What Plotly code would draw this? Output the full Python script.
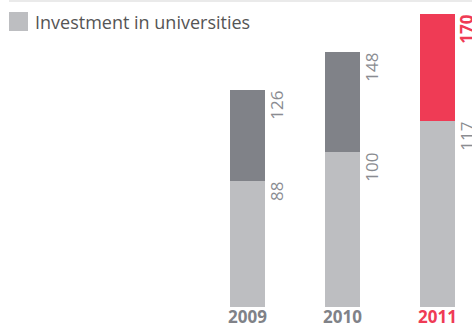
import plotly.graph_objects as go

years = ["2009", "2010", "2011"]
total_values = [126, 148, 170]
university_labels = [88, 100, 117]
# heights of the light-grey segment as drawn in the picture
university_bar = [73, 90, 108]
other_bar = [t - u for t, u in zip(total_values, university_bar)]

LIGHT = "#BDBEC1"
DARK = "#808288"
RED = "#EF3B55"
TXT = "#8A8C91"
FONT = "Open Sans"

xs = list(range(len(years)))
top_colors = [DARK, DARK, RED]

fig = go.Figure()
fig.add_trace(go.Bar(x=xs, y=university_bar, marker=dict(color=LIGHT, line=dict(width=0)),
                     width=0.368, showlegend=False, hoverinfo="skip"))
fig.add_trace(go.Bar(x=xs, y=other_bar, marker=dict(color=top_colors, line=dict(width=0)),
                     width=0.368, showlegend=False, hoverinfo="skip"))

ann = []
for i, y in enumerate(years):
    is_last = i == len(years) - 1
    ann.append(dict(x=i, y=-20 / 307, xref="x", yref="paper", yanchor="bottom", xanchor="center",
                    text=f"<b>{y}</b>", showarrow=False, yshift=-3,
                    font=dict(family=FONT, size=17, color=RED if is_last else DARK)))
    # total label
    ann.append(dict(x=i + 0.184, y=total_values[i], xref="x", yref="y", xanchor="left", yanchor="top",
                    text=(f"<b>{total_values[i]}</b>" if is_last else str(total_values[i])),
                    textangle=-90, showarrow=False, xshift=-2, yshift=1,
                    font=dict(family=FONT, size=17, color=RED if is_last else TXT)))
    # university label
    ann.append(dict(x=i + 0.184, y=university_bar[i], xref="x", yref="y", xanchor="left", yanchor="top",
                    text=str(university_labels[i]), textangle=-90, showarrow=False, xshift=-2, yshift=1,
                    font=dict(family=FONT, size=17, color=TXT)))

ann.append(dict(x=33 / 472, y=1 - 22 / 307, xref="paper", yref="paper", xanchor="left", yanchor="middle",
                text="Investment in universities", showarrow=False,
                font=dict(family=FONT, size=18, color="#555555")))

shapes = [
    dict(type="rect", xref="paper", yref="paper", x0=9 / 472, x1=28 / 472,
         y0=1 - 31 / 307, y1=1 - 12 / 307, fillcolor=LIGHT, line=dict(width=0)),
    dict(type="line", xref="paper", yref="paper", x0=9 / 472, x1=1, y0=1 - 1 / 307, y1=1 - 1 / 307,
         line=dict(color="#E3E3E3", width=1.5)),
]

fig.update_layout(
    width=472, height=327,
    margin=dict(l=0, r=0, t=0, b=20, pad=0),
    barmode="stack",
    plot_bgcolor="white", paper_bgcolor="white",
    xaxis=dict(range=[-247.5 / 95, (472 - 247.5) / 95], visible=False, fixedrange=True),
    yaxis=dict(range=[0, 307 / 1.725], visible=False, fixedrange=True),
    annotations=ann, shapes=shapes,
)

fig.write_html("out.html")
